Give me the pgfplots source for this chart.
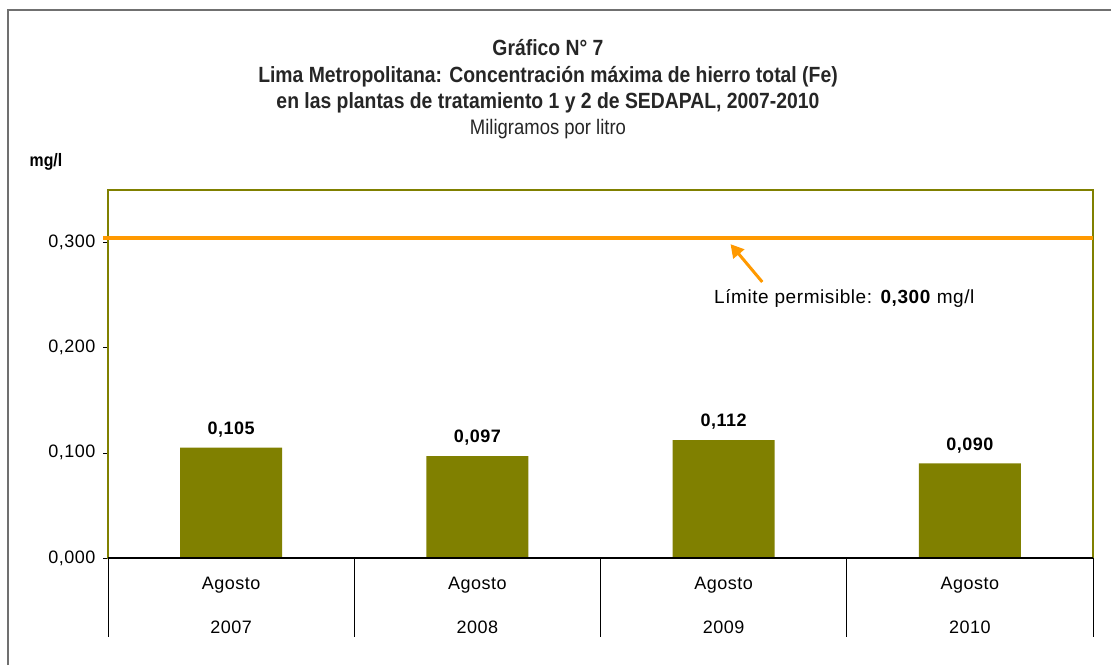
\documentclass[border=0pt]{standalone}
\usepackage{pgfplots}
\pgfplotsset{compat=1.18}
\usepackage{fontspec}
\setmainfont{Liberation Sans}[LetterSpace=3]
\newfontfamily\narrowfont[FakeStretch=0.88]{Liberation Sans}
\usetikzlibrary{arrows.meta}
\definecolor{olivec}{HTML}{808000}
\definecolor{orangec}{HTML}{FF9900}
\definecolor{framegray}{HTML}{707070}
\begin{document}
\begin{tikzpicture}[x=1pt,y=1pt]
\useasboundingbox (0,0) rectangle (1111,665);
\draw[framegray, line width=1.5pt] (8,0) -- (8,655) -- (1111,655);
\node[font=\narrowfont\bfseries\fontsize{22}{25}\selectfont, text=black!85] at (548,617) {Gráfico N° 7};
\node[font=\narrowfont\bfseries\fontsize{22}{25}\selectfont, text=black!85] at (548,588) {Lima Metropolitana: Concentración máxima de hierro total (Fe)};
\node[font=\narrowfont\bfseries\fontsize{22}{25}\selectfont, text=black!85] at (548,562) {en las plantas de tratamiento 1 y 2 de SEDAPAL, 2007-2010};
\node[font=\narrowfont\fontsize{21}{24}\selectfont, text=black!85] at (548,536) {Miligramos por litro};
\node[font=\narrowfont\bfseries\fontsize{18}{21}\selectfont] at (46,503) {mg/l};
\begin{axis}[
  at={(108pt,107pt)}, anchor=south west,
  scale only axis, width=985pt, height=368pt,
  xmin=0.5, xmax=4.5, ymin=0, ymax=0.35,
  clip=false,
  axis line style={olivec, line width=1.3pt},
  xtick=\empty,
  ytick={0,0.1,0.2,0.3}, ytick pos=left,
  tick align=outside, major tick length=5pt,
  ytick style={black, line width=0.6pt},
  yticklabel style={font=\fontsize{18}{21}\selectfont, xshift=-4pt},
  /pgf/number format/.cd, fixed, fixed zerofill, precision=3, use comma, assume math mode=true,
]
\addplot[ybar, bar width=102pt, fill=olivec, draw=none,
  nodes near coords={\pgfmathprintnumber[fixed,fixed zerofill,precision=3,use comma,assume math mode=true]{\pgfplotspointmeta}},
  every node near coord/.append style={font=\bfseries\fontsize{18}{21}\selectfont, yshift=7pt, text=black}]
  coordinates {(1,0.105) (2,0.097) (3,0.112) (4,0.090)};
\addplot[color=orangec, line width=4pt] coordinates {(0.48,0.304) (4.5,0.304)};
\draw[black, line width=1.2pt] (axis cs:0.5,0) -- (axis cs:4.5,0);
\draw[black, line width=0.8pt] (axis cs:0.5,0) -- ([yshift=-79pt]axis cs:0.5,0);
\draw[black, line width=0.8pt] (axis cs:1.5,0) -- ([yshift=-79pt]axis cs:1.5,0);
\draw[black, line width=0.8pt] (axis cs:2.5,0) -- ([yshift=-79pt]axis cs:2.5,0);
\draw[black, line width=0.8pt] (axis cs:3.5,0) -- ([yshift=-79pt]axis cs:3.5,0);
\draw[black, line width=0.8pt] (axis cs:4.5,0) -- ([yshift=-79pt]axis cs:4.5,0);
\node[font=\fontsize{18}{21}\selectfont] at ([yshift=-27pt]axis cs:1,0) {Agosto};
\node[font=\fontsize{18}{21}\selectfont] at ([yshift=-27pt]axis cs:2,0) {Agosto};
\node[font=\fontsize{18}{21}\selectfont] at ([yshift=-27pt]axis cs:3,0) {Agosto};
\node[font=\fontsize{18}{21}\selectfont] at ([yshift=-27pt]axis cs:4,0) {Agosto};
\node[font=\fontsize{18}{21}\selectfont] at ([yshift=-69pt]axis cs:1,0) {2007};
\node[font=\fontsize{18}{21}\selectfont] at ([yshift=-69pt]axis cs:2,0) {2008};
\node[font=\fontsize{18}{21}\selectfont] at ([yshift=-69pt]axis cs:3,0) {2009};
\node[font=\fontsize{18}{21}\selectfont] at ([yshift=-69pt]axis cs:4,0) {2010};
\draw[orangec, line width=3pt, -{Triangle[length=13pt,width=14pt]}] (axis cs:3.157,0.2625) -- (axis cs:3.028,0.2985);
\node[font=\fontsize{19}{22}\selectfont] at (axis cs:3.49,0.247) {Límite permisible: \textbf{0,300} mg/l};
\end{axis}
\end{tikzpicture}
\end{document}
